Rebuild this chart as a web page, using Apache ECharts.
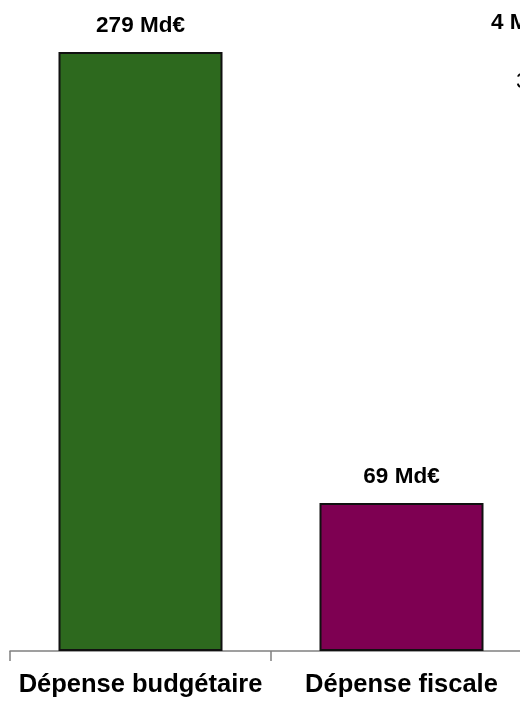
<!DOCTYPE html>
<html>
<head>
<meta charset="utf-8">
<script src="https://cdn.jsdelivr.net/npm/echarts@6/dist/echarts.min.js"></script>
<style>
  html, body { margin: 0; padding: 0; background: #fff; overflow: hidden; }
  #chart { width: 520px; height: 715px; }
</style>
</head>
<body>
<div id="chart"></div>
<script>
const categories = ["Dépense budgétaire", "Dépense fiscale"];
const values = [279, 69];
const barColors = ["#2d691e", "#7e0052"];
const unit = " Md€";

const font = "'Liberation Sans', Arial, sans-serif";

const chart = echarts.init(document.getElementById("chart"));
chart.setOption({
  animation: false,
  grid: { left: 10, right: -12, top: 7, bottom: 64, containLabel: false, outerBoundsMode: "none" },
  xAxis: {
    type: "category",
    data: categories,
    axisLine: { lineStyle: { color: "#808080", width: 1.5 } },
    axisTick: { show: true, length: 10, lineStyle: { color: "#808080", width: 1.5 } },
    axisLabel: {
      interval: 0,
      hideOverlap: false,
      color: "#000",
      fontFamily: font,
      fontWeight: "bold",
      fontSize: 25.5,
      margin: 21
    }
  },
  yAxis: {
    type: "value",
    min: 0,
    max: 300,
    show: false,
    splitLine: { show: false }
  },
  series: [{
    type: "bar",
    barWidth: 164,
    data: values.map((v, i) => ({
      value: v,
      itemStyle: { color: barColors[i], borderColor: "#111", borderWidth: 2 }
    })),
    label: {
      show: true,
      position: "top",
      distance: 15,
      color: "#000",
      fontFamily: font,
      fontWeight: "bold",
      fontSize: 22.5,
      formatter: p => p.value + unit
    }
  }],
  graphic: [
    {
      type: "text",
      left: 491,
      top: 11,
      style: { text: "4 Md€", fill: "#000", font: "bold 22.5px " + font }
    },
    {
      type: "text",
      left: 516,
      top: 70,
      style: { text: "3", fill: "#000", font: "22.5px " + font }
    }
  ]
});
</script>
</body>
</html>
